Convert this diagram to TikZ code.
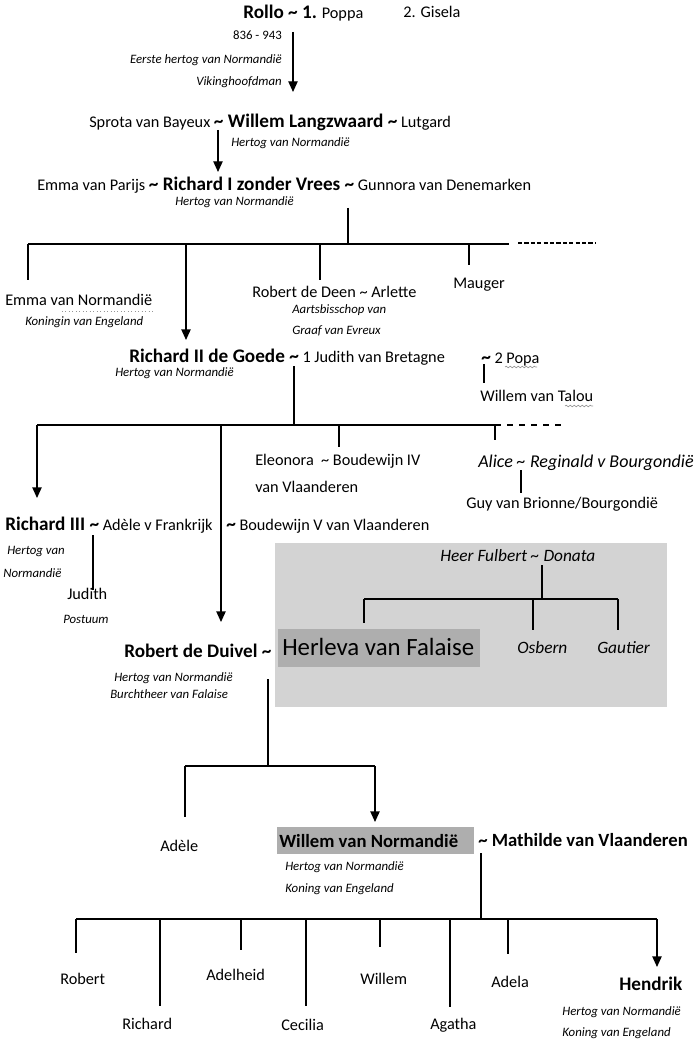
\documentclass[tikz,border=0pt]{standalone}
\usepackage{fontspec}
\setmainfont{Carlito}
\usetikzlibrary{arrows.meta,decorations.pathmorphing}
\definecolor{boxgrey}{RGB}{211,211,211}
\definecolor{markgrey}{RGB}{174,174,174}
\definecolor{squiggle}{RGB}{150,150,150}
\newcommand{\hname}[1]{{\fontsize{14.4}{17}\selectfont\bfseries #1}}

\begin{document}
\begin{tikzpicture}[x=0.75pt,y=-0.75pt,
    every node/.style={inner sep=0pt,anchor=base west},
    txt/.style={font=\fontsize{12.2}{14}\selectfont},
    big/.style={font=\fontsize{14.4}{17}\selectfont\bfseries},
    sub/.style={font=\fontsize{9.6}{12}\selectfont\itshape},
    mid/.style={font=\fontsize{13}{16}\selectfont\itshape},
    stem/.style={line width=0.9pt},
    bar/.style={line width=1.4pt},
    kid/.style={line width=1pt,-{Triangle[width=7pt,length=8pt]}},
    blank/.style={line width=1pt,dash pattern=on 3.2pt off 1.6pt},
    wideblank/.style={line width=1pt,dash pattern=on 4.5pt off 4.5pt}]
\useasboundingbox (0,0) rectangle (696,1041);

\fill[boxgrey]  (275,543) rectangle (667,707);
\fill[markgrey] (278,629) rectangle (480,667);
\fill[markgrey] (277,827) rectangle (474,854);

\node[txt]                  (rollo)       at (243,19)   {\hname{Rollo \textasciitilde{} 1.} Poppa};
\node[txt]                  (gisela)      at (403,18)   {2. Gisela};
\node[sub,anchor=base east,font=\fontsize{9.6}{12}\selectfont] (rollodates) at (282,40) {836 - 943};
\node[sub,anchor=base east] (rollotitle)  at (282,64)   {Eerste hertog van Normandië};
\node[sub,anchor=base east] (rollotitleb) at (282,86)   {Vikinghoofdman};

\node[txt]                  (langzwaard)  at (89,128)   {Sprota van Bayeux \hname{\textasciitilde{} Willem Langzwaard \textasciitilde{}} Lutgard};
\node[sub]                  (langztitle)  at (231,147)  {Hertog van Normandië};
\node[txt]                  (richardi)    at (37,191)   {Emma van Parijs \hname{\textasciitilde{} Richard I zonder Vrees \textasciitilde{}} Gunnora van Denemarken};
\node[sub]                  (richarditit) at (175,206)  {Hertog van Normandië};

\node[txt]                  (emma)        at (5,305)    {Emma van Normandië};
\node[sub]                  (emmatitle)   at (25,325)   {Koningin van Engeland};
\node[txt]                  (deen)        at (252,297)  {Robert de Deen \textasciitilde{} Arlette};
\node[sub]                  (deentitle)   at (292,313)  {Aartsbisschop van};
\node[sub]                  (deentitleb)  at (292,334)  {Graaf van Evreux};
\node[txt]                  (mauger)      at (453,288)  {Mauger};

\node[txt]                  (richardii)   at (129,362)  {\hname{Richard II de Goede \textasciitilde{}} 1 Judith van Bretagne};
\node[sub]                  (richardiitit) at (115,376) {Hertog van Normandië};
\node[txt]                  (popa)        at (481,363)  {\hname{\textasciitilde{}} 2 Popa};
\node[txt]                  (talou)       at (480,401)  {Willem van Talou};

\node[txt]                  (eleonora)    at (255,465)  {Eleonora \ \textasciitilde{} Boudewijn IV};
\node[txt]                  (eleonorab)   at (255,492)  {van Vlaanderen};
\node[mid,font=\fontsize{13.5}{16}\selectfont\itshape] (alice) at (478,467) {Alice \textasciitilde{} Reginald v Bourgondië};
\node[txt]                  (guy)         at (466,508)  {Guy van Brionne/Bourgondië};

\node[txt]                  (richardiii)  at (5,530)    {\hname{Richard III \textasciitilde{}} Adèle v Frankrijk};
\node[txt]                  (boudewijn)   at (226,530)  {\hname{\textasciitilde{}} Boudewijn V van Vlaanderen};
\node[sub]                  (richiiitit)  at (7,554)    {Hertog van};
\node[sub]                  (richiiititb) at (3,577)    {Normandië};
\node[txt]                  (judith)      at (67,599)   {Judith};
\node[sub]                  (postuum)     at (63,623)   {Postuum};

\node[mid]                  (fulbert)     at (440,561)  {Heer Fulbert \textasciitilde{} Donata};
\node[font=\fontsize{18.6}{22}\selectfont] (herleva) at (282,655) {Herleva van Falaise};
\node[mid]                  (osbern)      at (517,653)  {Osbern};
\node[mid]                  (gautier)     at (597,653)  {Gautier};

\node[big]                  (duivel)      at (124,657)  {Robert de Duivel \textasciitilde{}};
\node[sub]                  (duiveltitle) at (114,681)  {Hertog van Normandië};
\node[sub]                  (duiveltitb)  at (110,698)  {Burchtheer van Falaise};

\node[txt]                  (adele)       at (160,851)  {Adèle};
\node[big,font=\fontsize{14}{17}\selectfont\bfseries] (willemn) at (279,847) {Willem van Normandië};
\node[big,font=\fontsize{14}{17}\selectfont\bfseries] (mathilde) at (478,846) {\textasciitilde{} Mathilde van Vlaanderen};
\node[sub]                  (willemtitle) at (285,870)  {Hertog van Normandië};
\node[sub]                  (willemtitb)  at (285,892)  {Koning van Engeland};

\node[txt]                  (robert)      at (60,984)   {Robert};
\node[txt]                  (richard)     at (122,1029) {Richard};
\node[txt]                  (adelheid)    at (206,980)  {Adelheid};
\node[txt]                  (cecilia)     at (281,1030) {Cecilia};
\node[txt]                  (willem)      at (360,984)  {Willem};
\node[txt]                  (agatha)      at (430,1029) {Agatha};
\node[txt]                  (adela)       at (491,987)  {Adela};
\node[big]                  (hendrik)     at (619,990)  {Hendrik};
\node[sub]                  (hendriktit)  at (562,1015) {Hertog van Normandië};
\node[sub]                  (hendriktitb) at (562,1036) {Koning van Engeland};

\draw[squiggle,dotted,line width=0.6pt] (62,311) -- (153,311);
\draw[squiggle,line width=0.5pt,decorate,decoration={snake,amplitude=0.6pt,segment length=3pt}] (505,367) -- (537,367);
\draw[squiggle,line width=0.5pt,decorate,decoration={snake,amplitude=0.6pt,segment length=3pt}] (565,406) -- (593,406);

\coordinate (rollo-s)     at (293,32);
\coordinate (langz-n)     at (293,92);
\coordinate (langz-s)     at (218,130);
\coordinate (richardi-n)  at (218,172);
\coordinate (richardi-s)  at (348,208);
\coordinate (bar1-w)      at (28,244);
\coordinate (bar1-e)      at (509,244);
\coordinate (bar1-dash-a) at (518,243);
\coordinate (bar1-dash-b) at (595,243);
\coordinate (emma-n)      at (28,280);
\coordinate (richardii-n) at (186,340);
\coordinate (deen-n)      at (320,280);
\coordinate (mauger-n)    at (469,265);

\coordinate (richardii-s) at (294,366);
\coordinate (popa-s)      at (484,364);
\coordinate (talou-n)     at (484,383);
\coordinate (bar2-w)      at (37,425);
\coordinate (bar2-e)      at (495,425);
\coordinate (bar2-dash)   at (566,425);
\coordinate (richardiii-n) at (37,498);
\coordinate (duivel-n)    at (221,622);
\coordinate (eleonora-n)  at (339,447);
\coordinate (alice-n)     at (495,440);
\coordinate (alice-s)     at (521,470);
\coordinate (guy-n)       at (521,493);
\coordinate (richardiii-s) at (93,535);
\coordinate (judith-n)    at (93,590);

\coordinate (fulbert-s)   at (542,565);
\coordinate (bar3-w)      at (364,599);
\coordinate (bar3-e)      at (618,599);
\coordinate (herleva-n)   at (364,623);
\coordinate (osbern-n)    at (533,630);
\coordinate (gautier-n)   at (618,630);

\coordinate (duivel-s)    at (268,679);
\coordinate (bar4-w)      at (185,766);
\coordinate (bar4-e)      at (375,766);
\coordinate (adele-n)     at (185,817);
\coordinate (willemn-n)   at (375,822);

\coordinate (mathilde-s)  at (481,853);
\coordinate (bar5-w)      at (76,919);
\coordinate (bar5-e)      at (657,919);
\coordinate (robert-n)    at (76,953);
\coordinate (richard-n)   at (160,1006);
\coordinate (adelheid-n)  at (241,950);
\coordinate (cecilia-n)   at (306,1006);
\coordinate (willem-n)    at (380,947);
\coordinate (agatha-n)    at (450,1007);
\coordinate (adela-n)     at (508,954);
\coordinate (hendrik-n)   at (657,967);

\draw[kid]   (rollo-s) -- (langz-n);
\draw[kid]   (langz-s) -- (richardi-n);
\draw[stem]  (richardi-s) -- (richardi-s |- bar1-w);
\draw[bar]   (bar1-w) -- (bar1-e);
\draw[blank] (bar1-dash-a) -- (bar1-dash-b);
\draw[stem]  (bar1-w) -- (emma-n);
\draw[kid]   (richardii-n |- bar1-w) -- (richardii-n);
\draw[stem]  (deen-n |- bar1-w) -- (deen-n);
\draw[stem]  (mauger-n |- bar1-w) -- (mauger-n);

\draw[stem]  (richardii-s) -- (richardii-s |- bar2-w);
\draw[stem]  (popa-s) -- (talou-n);
\draw[bar]   (bar2-w) -- (bar2-e);
\draw[wideblank] (bar2-e) -- (bar2-dash);
\draw[kid]   (bar2-w) -- (richardiii-n);
\draw[kid]   (duivel-n |- bar2-w) -- (duivel-n);
\draw[stem]  (eleonora-n |- bar2-w) -- (eleonora-n);
\draw[stem]  (bar2-e) -- (alice-n);
\draw[stem]  (alice-s) -- (guy-n);
\draw[stem]  (richardiii-s) -- (judith-n);

\draw[stem]  (fulbert-s) -- (fulbert-s |- bar3-w);
\draw[bar]   (bar3-w) -- (bar3-e);
\draw[stem]  (bar3-w) -- (herleva-n);
\draw[stem]  (osbern-n |- bar3-w) -- (osbern-n);
\draw[stem]  (bar3-e) -- (gautier-n);

\draw[stem]  (duivel-s) -- (duivel-s |- bar4-w);
\draw[bar]   (bar4-w) -- (bar4-e);
\draw[stem]  (bar4-w) -- (adele-n);
\draw[kid]   (bar4-e) -- (willemn-n);

\draw[stem]  (mathilde-s) -- (mathilde-s |- bar5-w);
\draw[bar]   (bar5-w) -- (bar5-e);
\draw[stem]  (bar5-w) -- (robert-n);
\draw[stem]  (richard-n |- bar5-w) -- (richard-n);
\draw[stem]  (adelheid-n |- bar5-w) -- (adelheid-n);
\draw[stem]  (cecilia-n |- bar5-w) -- (cecilia-n);
\draw[stem]  (willem-n |- bar5-w) -- (willem-n);
\draw[stem]  (agatha-n |- bar5-w) -- (agatha-n);
\draw[stem]  (adela-n |- bar5-w) -- (adela-n);
\draw[kid]   (bar5-e) -- (hendrik-n);
\end{tikzpicture}
\end{document}
